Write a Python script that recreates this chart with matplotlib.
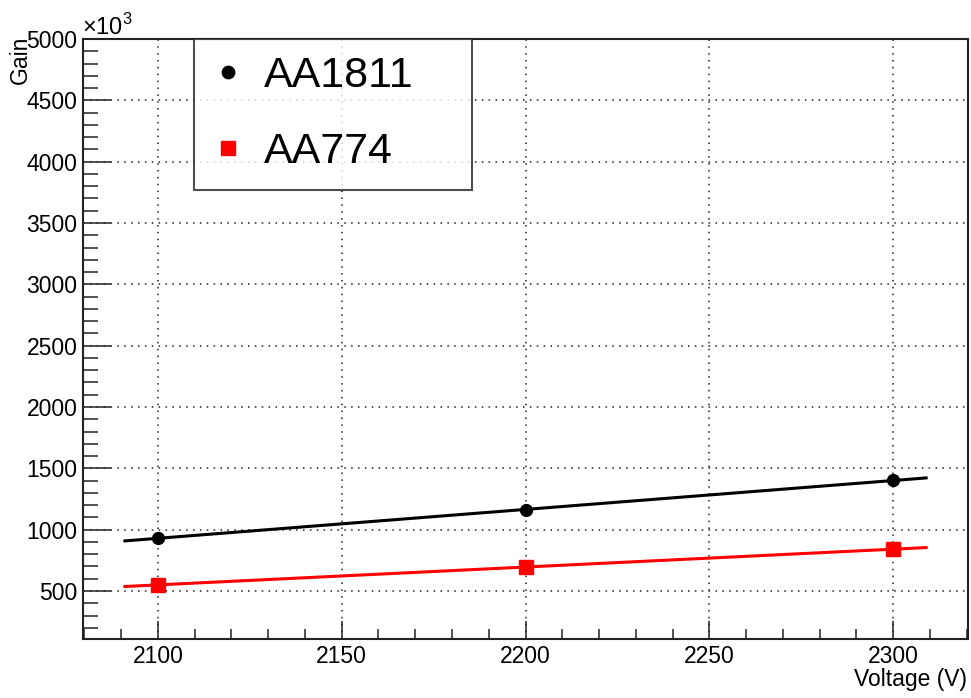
import matplotlib
matplotlib.use("Agg")
import matplotlib.pyplot as plt
import numpy as np
from matplotlib.ticker import MultipleLocator

plt.rcParams['font.family'] = ['Liberation Sans', 'DejaVu Sans']
plt.rcParams['mathtext.fontset'] = 'custom'
plt.rcParams['mathtext.rm'] = 'Liberation Sans'

# Gain (x10^3) vs high voltage for the two PMTs
voltage = [2100, 2200, 2300]
gain_aa1811 = [934, 1157, 1405]
gain_aa774 = [549, 698, 840]
fit_range = [2091, 2309]  # linear fit drawing range (V)

W, H = 971, 698
fig = plt.figure(figsize=(W / 100, H / 100), dpi=100)
ax = fig.add_axes([83 / W, 59 / H, 885 / W, 600 / H])

ax.set_xlim(2079.6, 2320.4)
ax.set_ylim(109, 5000)

# Linear fits drawn under the points
xf = np.array(fit_range, dtype=float)
for g, col in [(gain_aa1811, 'black'), (gain_aa774, 'red')]:
    p = np.polyfit(voltage, g, 1)
    ax.plot(xf, np.polyval(p, xf), '-', color=col, lw=2.2, zorder=3)

ax.plot(voltage, gain_aa1811, 'o', color='black', ms=8.5, label='AA1811', zorder=4)
ax.plot(voltage, gain_aa774, 's', color='red', ms=9.5, label='AA774', zorder=4)

# ROOT-like axes: ticks inside, only left/bottom
ax.xaxis.set_major_locator(MultipleLocator(50))
ax.xaxis.set_minor_locator(MultipleLocator(10))
ax.yaxis.set_major_locator(MultipleLocator(500))
ax.yaxis.set_minor_locator(MultipleLocator(100))
ax.tick_params(axis='both', which='both', direction='in', top=False, right=False,
               labelsize=16.5, width=1.1, color='#222222')
ax.tick_params(axis='x', which='major', length=13, pad=4)
ax.tick_params(axis='x', which='minor', length=7)
ax.tick_params(axis='y', which='major', length=20, pad=4)
ax.tick_params(axis='y', which='minor', length=11)
for s in ax.spines.values():
    s.set_linewidth(1.5)
    s.set_color('#222222')

ax.grid(True, which='major', color='#222222', linestyle=(0, (1, 3.5)), lw=1.1)
ax.set_axisbelow(True)

leg_top = 1 - 39 / H
leg = ax.legend(loc='upper left', bbox_to_anchor=(194 / W, leg_top - 0.3, 278 / W, 0.3),
                bbox_transform=fig.transFigure, mode='expand', borderaxespad=0,
                fontsize=31, frameon=True, fancybox=False, edgecolor='#222222',
                handlelength=0.8, handletextpad=0.42, borderpad=0.40,
                labelspacing=0.84, markerscale=1.05)
leg.get_frame().set_linewidth(1.5)
leg.set_zorder(5)

fig.text(82 / W, 1 - 35 / H, '×10$^{3}$', fontsize=17, ha='left', va='baseline')
fig.text(20 / W, 1 - 36 / H, 'Gain', rotation=90, fontsize=16.5, ha='center',
         va='top')
fig.text(967 / W, 1 - 686 / H, 'Voltage (V)', fontsize=16.5, ha='right',
         va='baseline')

fig.savefig('out.png', dpi=100)
